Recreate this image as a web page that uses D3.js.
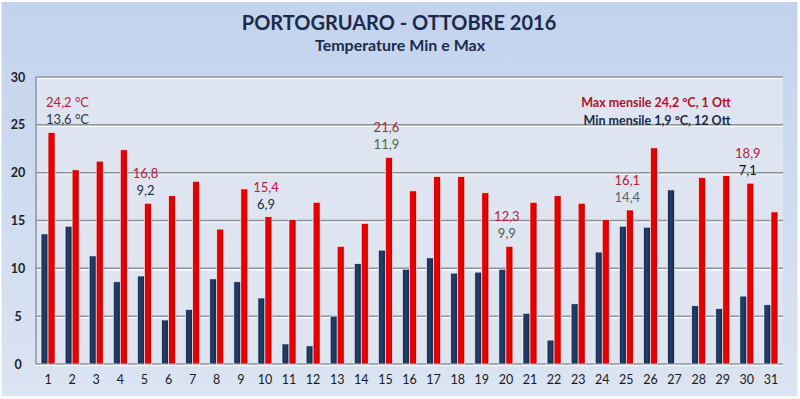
<!DOCTYPE html>
<html>
<head>
<meta charset="utf-8">
<script src="https://cdn.jsdelivr.net/npm/d3@7"></script>
<style>
  html, body { margin: 0; padding: 0; background: #ffffff; }
  svg { display: block; font-family: Lato, "Open Sans", sans-serif; }
</style>
</head>
<body>
<div id="chart"></div>
<script>
// data
const days = d3.range(1, 32).map(String);
const tMin = [13.6, 14.4, 11.3, 8.6, 9.2, 4.6, 5.7, 8.9, 8.6, 6.9, 2.1, 1.9, 5.0, 10.5, 11.9,
  9.9, 11.1, 9.5, 9.6, 9.9, 5.3, 2.5, 6.3, 11.7, 14.4, 14.3, 18.2, 6.1, 5.8, 7.1, 6.2];
const tMax = [24.2, 20.3, 21.2, 22.4, 16.8, 17.6, 19.1, 14.1, 18.3, 15.4, 15.1, 16.9, 12.3, 14.7, 21.6,
  18.1, 19.6, 19.6, 17.9, 12.3, 16.9, 17.6, 16.8, 15.1, 16.1, 22.6, null, 19.5, 19.7, 18.9, 15.9];
const yTicks = [0, 5, 10, 15, 20, 25, 30];
const labelDays = ['1', '5', '10', '15', '20', '25', '30'];
const labelMax = ['24,2 °C', '16,8', '15,4', '21,6', '12,3', '16,1', '18,9'];
const labelMin = ['13,6 °C', '9,2', '6,9', '11,9', '9,9', '14,4', '7,1'];
const title = 'PORTOGRUARO - OTTOBRE 2016';
const subtitle = 'Temperature Min e Max';
const noteMax = 'Max mensile 24,2 °C, 1 Ott';
const noteMin = 'Min mensile 1,9 °C, 12 Ott';

// colours of the min labels as they appear
const minLabelColor = {'1': '#2b3648', '5': '#1f2b3c', '10': '#1f2b3c', '15': '#4d6540',
  '20': '#4d6540', '25': '#56606e', '30': '#111111'};

const W = 800, H = 399;
const margin = {top: 77, right: 17, bottom: 35, left: 36};

const svg = d3.select('#chart').append('svg')
  .attr('width', W).attr('height', H);

const defs = svg.append('defs');
const bg = defs.append('linearGradient').attr('id', 'bg')
  .attr('x1', 0).attr('y1', 0).attr('x2', 0).attr('y2', 1);
bg.append('stop').attr('offset', '0%').attr('stop-color', '#c3d3ee');
bg.append('stop').attr('offset', '100%').attr('stop-color', '#dbe4f2');

const redG = defs.append('linearGradient').attr('id', 'redG')
  .attr('x1', 0).attr('y1', 0).attr('x2', 1).attr('y2', 0);
redG.append('stop').attr('offset', '0%').attr('stop-color', '#d80000');
redG.append('stop').attr('offset', '45%').attr('stop-color', '#f00000');
redG.append('stop').attr('offset', '100%').attr('stop-color', '#c00000');

const navyG = defs.append('linearGradient').attr('id', 'navyG')
  .attr('x1', 0).attr('y1', 0).attr('x2', 1).attr('y2', 0);
navyG.append('stop').attr('offset', '0%').attr('stop-color', '#162b4d');
navyG.append('stop').attr('offset', '45%').attr('stop-color', '#243f6a');
navyG.append('stop').attr('offset', '100%').attr('stop-color', '#13264a');

// background
svg.append('rect').attr('width', W).attr('height', H).attr('fill', '#ffffff');
svg.append('rect').attr('x', 1.5).attr('y', 2).attr('width', W - 4).attr('height', H - 5)
  .attr('fill', 'url(#bg)');

const x = d3.scaleBand()
  .domain(days)
  .range([margin.left, W - margin.right])
  .paddingInner(0.42)
  .paddingOuter(0.21);

const xs = d3.scaleBand()
  .domain(['min', 'max'])
  .range([0, x.bandwidth()]);

const y = d3.scaleLinear()
  .domain([0, 30])
  .range([H - margin.bottom, margin.top]);

// plot area
svg.append('rect')
  .attr('x', margin.left).attr('y', margin.top)
  .attr('width', W - margin.left - margin.right)
  .attr('height', H - margin.top - margin.bottom)
  .attr('fill', '#dee5f0');

// grid lines
const grid = svg.append('g');
grid.selectAll('line.w').data(yTicks).join('line')
  .attr('class', 'w')
  .attr('x1', margin.left).attr('x2', W - margin.right)
  .attr('y1', d => y(d) + 1.5).attr('y2', d => y(d) + 1.5)
  .attr('stroke', '#ffffff').attr('stroke-width', 1.2);
grid.selectAll('line.g').data(yTicks).join('line')
  .attr('class', 'g')
  .attr('x1', margin.left).attr('x2', W - margin.right)
  .attr('y1', d => y(d)).attr('y2', d => y(d))
  .attr('stroke', '#8c949f').attr('stroke-width', 1.5);
svg.append('line')
  .attr('x1', margin.left).attr('x2', margin.left)
  .attr('y1', margin.top).attr('y2', y(0))
  .attr('stroke', '#8c949f').attr('stroke-width', 1.5);

// y axis
const yAxis = svg.append('g')
  .attr('transform', `translate(${margin.left - 6},0)`)
  .call(d3.axisLeft(y).tickValues(yTicks).tickSize(0).tickPadding(5));
yAxis.select('.domain').remove();
yAxis.selectAll('text')
  .attr('font-family', 'Lato, sans-serif')
  .attr('font-size', 12.5)
  .attr('font-weight', 'bold')
  .attr('fill', '#222222')
  .attr('text-anchor', 'middle')
  .attr('x', -12);

// x axis
const xAxis = svg.append('g')
  .attr('transform', `translate(0,${y(0)})`)
  .call(d3.axisBottom(x).tickSize(0).tickPadding(11));
xAxis.select('.domain').remove();
xAxis.selectAll('text')
  .attr('font-family', 'Lato, sans-serif')
  .attr('font-size', 12.5)
  .attr('fill', '#1a1a1a');

// bars
const rows = days.map((d, i) => ({day: d, min: tMin[i], max: tMax[i]}));
const bars = svg.append('g');
bars.selectAll('rect.min').data(rows.filter(d => d.min != null)).join('rect')
  .attr('class', 'min')
  .attr('x', d => x(d.day) + xs('min'))
  .attr('y', d => y(d.min))
  .attr('width', xs.bandwidth())
  .attr('height', d => y(0) - y(d.min))
  .attr('fill', 'url(#navyG)')
  .attr('stroke', '#f4f7fb').attr('stroke-width', 0.8).attr('stroke-opacity', 0.8);
bars.selectAll('rect.max').data(rows.filter(d => d.max != null)).join('rect')
  .attr('class', 'max')
  .attr('x', d => x(d.day) + xs('max'))
  .attr('y', d => y(d.max))
  .attr('width', xs.bandwidth())
  .attr('height', d => y(0) - y(d.max))
  .attr('fill', 'url(#redG)')
  .attr('stroke', '#f4f7fb').attr('stroke-width', 0.8).attr('stroke-opacity', 0.8);

// value labels above selected days
const labels = labelDays.map((d, i) => ({
  day: d, top: tMax[days.indexOf(d)], mx: labelMax[i], mn: labelMin[i]
}));
const labX = d => d.includes('°') ? x : null;
const lab = svg.append('g')
  .attr('font-family', 'Lato, sans-serif')
  .attr('font-size', 13);
lab.selectAll('text.mx').data(labels).join('text')
  .attr('class', 'mx')
  .attr('x', d => d.mx.includes('°') ? x(d.day) + 5 : x(d.day) + xs('max') + 1)
  .attr('y', d => y(d.top) - 25)
  .attr('text-anchor', d => d.mx.includes('°') ? 'start' : 'middle')
  .attr('fill', '#b0213c')
  .text(d => d.mx);
lab.selectAll('text.mn').data(labels).join('text')
  .attr('class', 'mn')
  .attr('x', d => d.mn.includes('°') ? x(d.day) + 5 : x(d.day) + xs('max') + 1)
  .attr('y', d => y(d.top) - 8)
  .attr('text-anchor', d => d.mn.includes('°') ? 'start' : 'middle')
  .attr('fill', d => minLabelColor[d.day])
  .text(d => d.mn);

// monthly notes
svg.append('text')
  .attr('x', 656).attr('y', 107)
  .attr('text-anchor', 'middle')
  .attr('font-size', 12.5).attr('font-weight', 'bold')
  .attr('fill', '#b0102a')
  .text(noteMax);
svg.append('text')
  .attr('x', 657).attr('y', 125)
  .attr('text-anchor', 'middle')
  .attr('font-size', 12.5).attr('font-weight', 'bold')
  .attr('fill', '#1a2a48')
  .text(noteMin);

// titles
svg.append('text')
  .attr('x', 399).attr('y', 30)
  .attr('text-anchor', 'middle')
  .attr('font-size', 20).attr('font-weight', 'bold')
  .attr('fill', '#1c2a4c')
  .text(title);
svg.append('text')
  .attr('x', 400).attr('y', 51)
  .attr('text-anchor', 'middle')
  .attr('font-size', 16).attr('font-weight', 'bold')
  .attr('fill', '#1c2a4c')
  .text(subtitle);
</script>
</body>
</html>
